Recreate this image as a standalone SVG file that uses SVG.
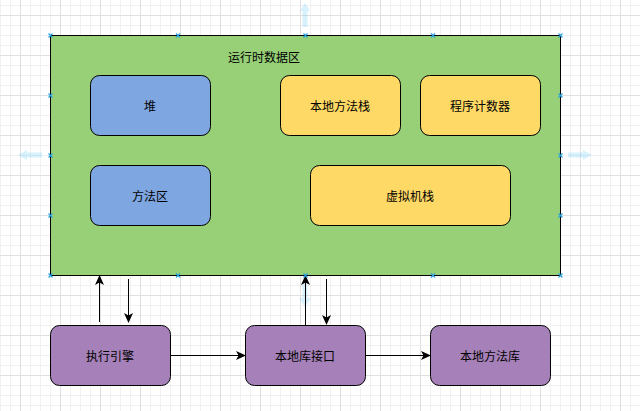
<svg xmlns="http://www.w3.org/2000/svg" width="640" height="411" viewBox="0 0 640 411">
<defs>
<pattern id="grid" x="20" y="15" width="40" height="40" patternUnits="userSpaceOnUse">
<path d="M10.5 0V40M20.5 0V40M30.5 0V40M0 10.5H40M0 20.5H40M0 30.5H40" stroke="#f1f1f1" stroke-width="1" fill="none"/>
<path d="M0.5 0V40M0 0.5H40" stroke="#e0e0e0" stroke-width="1" fill="none"/>
</pattern>
<marker id="ah" viewBox="0 0 10 10" refX="9" refY="5" markerWidth="10" markerHeight="10" markerUnits="userSpaceOnUse" orient="auto">
<path d="M0 0.5L10 5L0 9.5L2.5 5Z" fill="#000"/>
</marker>
<g id="hx">
<path d="M-2 -2L2 2M-2 2L2 -2" stroke="#29a3e0" stroke-width="1.2"/>
</g>
</defs>
<style>
text{font-family:"Noto Sans CJK SC","Liberation Sans",sans-serif;font-size:12px;fill:#000;text-anchor:middle;dominant-baseline:central}
.blue{fill:#7EA6E0;stroke:#000;stroke-width:1}
.yel{fill:#FFD966;stroke:#000;stroke-width:1}
.pur{fill:#A680B8;stroke:#000;stroke-width:1}
.edge{stroke:#000;stroke-width:1;fill:none;marker-end:url(#ah)}
.hover{fill:#29b6f2;opacity:0.18}
</style>
<rect width="640" height="411" fill="#fff"/>
<rect width="640" height="411" fill="url(#grid)"/>

<g id="hover-arrows">
<path class="hover" d="M305 3L310 11H307.5V27H302.5V11H300Z"/>
<path class="hover" d="M18 155L27 150V152.5H42V157.5H27V160Z"/>
<path class="hover" d="M592 155L583 150V152.5H568V157.5H583V160Z"/>
<path class="hover" d="M305 307L311 298H307.5V283H302.5V298H299Z"/>
</g>

<g id="runtime">
<rect x="50.5" y="35.5" width="510" height="240" fill="#97D077" stroke="#000" stroke-width="1"/>
<text x="264" y="56">运行时数据区</text>
</g>

<g id="heap">
<rect class="blue" x="90.5" y="75.5" width="120" height="60" rx="9"/>
<text x="150" y="105">堆</text>
</g>
<g id="native-stack">
<rect class="yel" x="280.5" y="75.5" width="120" height="60" rx="9"/>
<text x="340" y="105">本地方法栈</text>
</g>
<g id="pc">
<rect class="yel" x="420.5" y="75.5" width="120" height="60" rx="9"/>
<text x="480" y="105">程序计数器</text>
</g>
<g id="method-area">
<rect class="blue" x="90.5" y="165.5" width="120" height="60" rx="9"/>
<text x="150" y="195">方法区</text>
</g>
<g id="vm-stack">
<rect class="yel" x="310.5" y="165.5" width="200" height="60" rx="9"/>
<text x="410" y="195">虚拟机栈</text>
</g>

<g id="engine">
<rect class="pur" x="50.5" y="325.5" width="120" height="60" rx="9"/>
<text x="110" y="355">执行引擎</text>
</g>
<g id="native-interface">
<rect class="pur" x="245.5" y="325.5" width="120" height="60" rx="9"/>
<text x="305" y="355">本地库接口</text>
</g>
<g id="native-lib">
<rect class="pur" x="430.5" y="325.5" width="120" height="60" rx="9"/>
<text x="490" y="355">本地方法库</text>
</g>

<g id="connectors">
<path class="edge" d="M99.5 322V276"/>
<path class="edge" d="M128.5 279V322"/>
<path class="edge" d="M305.5 325V276"/>
<path class="edge" d="M326.5 279V324"/>
<path class="edge" d="M170.5 355.5H245"/>
<path class="edge" d="M365.5 355.5H430"/>
</g>

<g id="handles">
<use href="#hx" x="50.5" y="35.5"/><use href="#hx" x="178" y="35.5"/><use href="#hx" x="305.5" y="35.5"/><use href="#hx" x="433" y="35.5"/><use href="#hx" x="560.5" y="35.5"/>
<use href="#hx" x="50.5" y="275.5"/><use href="#hx" x="178" y="275.5"/><use href="#hx" x="305.5" y="275.5"/><use href="#hx" x="433" y="275.5"/><use href="#hx" x="560.5" y="275.5"/>
<use href="#hx" x="50.5" y="95.5"/><use href="#hx" x="50.5" y="155.5"/><use href="#hx" x="50.5" y="215.5"/>
<use href="#hx" x="560.5" y="95.5"/><use href="#hx" x="560.5" y="155.5"/><use href="#hx" x="560.5" y="215.5"/>
</g>
</svg>
